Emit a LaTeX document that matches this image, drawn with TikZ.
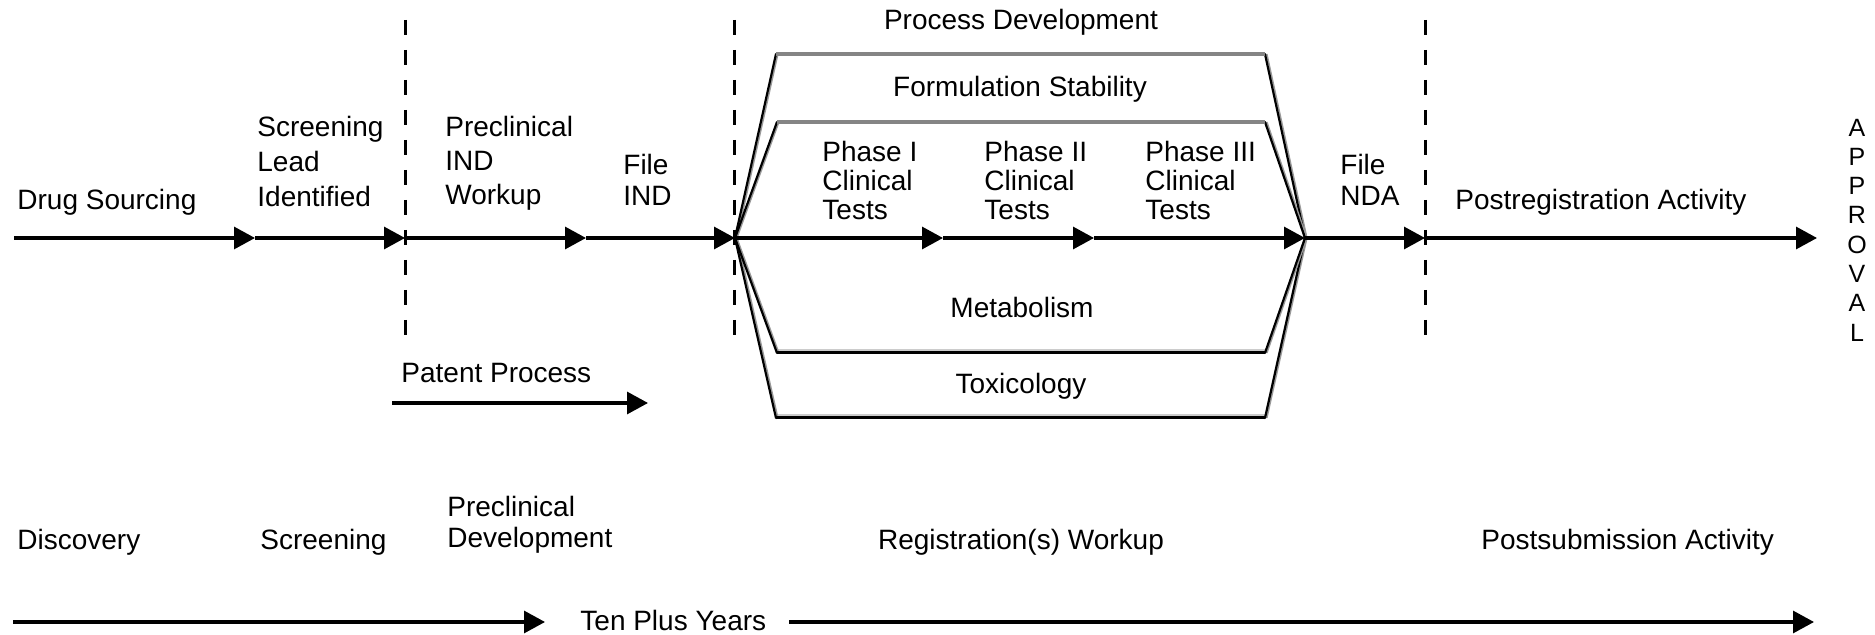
\documentclass[tikz,border=0pt]{standalone}
\usepackage{fontspec}
\setmainfont{Liberation Sans}
\usetikzlibrary{arrows.meta}
\begin{document}
\begin{tikzpicture}[x=0.5pt,y=-0.5pt,
  lbl/.style={inner sep=0pt, font=\fontsize{14}{17}\selectfont},
  stack/.style={lbl, align=left, anchor=north west, font=\fontsize{14}{#1}\selectfont},
  flow/.style={line width=1.6pt, -{Triangle[length=10.5pt,width=11pt]}},
  bar/.style={line width=1.6pt},
  divider/.style={line width=1.5pt, dash pattern=on 7.5pt off 7.5pt},
  rimtop/.style={line width=1.6pt, draw=black!48},
  rimbot/.style={line width=1.5pt, draw=black},
  rimshade/.style={line width=1.1pt, draw=black!20},
  side/.style={line width=1.1pt, draw=black, line cap=round},
  sideshade/.style={line width=0.8pt, draw=black!40}
]
\useasboundingbox (0,0) rectangle (1875,635);

% ---------- phase dividers ----------
\foreach \x/\n in {405/d1, 734/d2, 1425/d3} {
  \coordinate (\n t) at (\x,20);
  \coordinate (\n b) at (\x,335);
  \draw[divider] (\n t) -- (\n b);
}

% ---------- parallel-activity hexagons ----------
\coordinate (hl) at (735,238);
\coordinate (hr) at (1305,238);
\coordinate (o1) at (776,54);   \coordinate (o2) at (1265,54);
\coordinate (o3) at (1265,418); \coordinate (o4) at (776,418);
\coordinate (i1) at (777,122);  \coordinate (i2) at (1265,122);
\coordinate (i3) at (1265,353); \coordinate (i4) at (777,353);

% shading strips above the lower rims
\draw[rimshade] ([yshift=1.6pt]o4) -- ([yshift=1.6pt]o3);
\draw[rimshade] ([yshift=1.6pt]i4) -- ([yshift=1.6pt]i3);
% slanted sides
\foreach \a/\b in {hl/o1, o2/hr, hr/o3, o4/hl, hl/i1, i2/hr, hr/i3, i4/hl} {
  \draw[sideshade] ([xshift=0.9pt]\a) -- ([xshift=0.9pt]\b);
  \draw[side] (\a) -- (\b);
}
\draw[rimtop] (o1) -- (o2);
\draw[rimtop] (i1) -- (i2);
\draw[rimbot] (o4) -- (o3);
\draw[rimbot] (i4) -- (i3);

% ---------- main time line ----------
\coordinate (m0) at (14,238);
\coordinate (m1) at (255,238);
\coordinate (m2) at (405,238);
\coordinate (m3) at (586,238);
\coordinate (p1) at (943,238);
\coordinate (p2) at (1094,238);
\coordinate (m6) at (1425,238);
\coordinate (m7) at (1817,238);
\draw[flow] (m0) -- (m1);
\draw[flow] (m1) -- (m2);
\draw[flow] (m2) -- (m3);
\draw[flow] (m3) -- (hl);
\draw[flow] (hl) -- (p1);
\draw[flow] (p1) -- (p2);
\draw[flow] (p2) -- (hr);
\draw[flow] (hr) -- (m6);
\draw[flow] (m6) -- (m7);

% ---------- step labels along the time line ----------
\node[lbl, anchor=base west] (drug) at (17,210) {Drug Sourcing};
\node[stack=17.5pt] (lead) at (257,116) {Screening\\Lead\\Identified};
\node[stack=17pt] (ind) at (445,116) {Preclinical\\IND\\Workup};
\node[stack=15.5pt] (fileind) at (623,154) {File\\IND};
\node[stack=14.5pt] (ph1) at (822,141) {Phase I\\Clinical\\Tests};
\node[stack=14.5pt] (ph2) at (984,141) {Phase II\\Clinical\\Tests};
\node[stack=14.5pt] (ph3) at (1145,141) {Phase III\\Clinical\\Tests};
\node[stack=15.5pt] (filenda) at (1340,154) {File\\NDA};
\node[lbl, anchor=base west] (postreg) at (1455,210) {Postregistration Activity};
\node[inner sep=0pt, align=center, font=\fontsize{12.5}{14.65}\selectfont] (approval) at (1857,230)
  {A\\P\\P\\R\\O\\V\\A\\L};

% ---------- labels of the parallel activities ----------
\node[lbl, anchor=base] (procdev) at (1021,30) {Process Development};
\node[lbl, anchor=base] (formstab) at (1020,97) {Formulation Stability};
\node[lbl, anchor=base] (metab) at (1022,318) {Metabolism};
\node[lbl, anchor=base] (tox) at (1021,394) {Toxicology};

% ---------- patent process ----------
\node[lbl, anchor=base west] (patent) at (401,383) {Patent Process};
\coordinate (pa0) at (392,403);
\coordinate (pa1) at (648,403);
\draw[flow] (pa0) -- (pa1);

% ---------- stage names ----------
\node[lbl, anchor=base west] (disc) at (17,550) {Discovery};
\node[lbl, anchor=base west] (scr) at (260,550) {Screening};
\node[stack=15.5pt] (precl) at (447,496) {Preclinical\\Development};
\node[lbl, anchor=base] (regw) at (1021,550) {Registration(s) Workup};
\node[lbl, anchor=base west] (postsub) at (1481,550) {Postsubmission Activity};

% ---------- overall duration ----------
\node[lbl, anchor=base west] (ten) at (580,631) {Ten Plus Years};
\coordinate (t0) at (13,622);
\coordinate (t1) at (545,622);
\coordinate (t2) at (789,622);
\coordinate (t3) at (1814,622);
\draw[flow] (t0) -- (t1);
\draw[flow] (t2) -- (t3);
\end{tikzpicture}
\end{document}
